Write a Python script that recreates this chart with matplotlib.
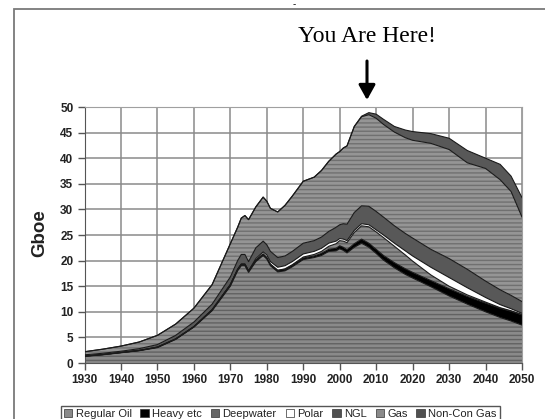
import matplotlib
matplotlib.use("Agg")
import matplotlib.pyplot as plt
from matplotlib.patches import Patch, Rectangle
import numpy as np

plt.rcParams["font.family"] = ["Liberation Sans", "DejaVu Sans"]
plt.rcParams["hatch.linewidth"] = 1.0

# values in Gboe per year
years = [1930, 1935, 1940, 1945, 1950, 1955, 1960, 1965, 1970, 1972, 1973, 1974,
         1975, 1977, 1979, 1980, 1981, 1983, 1985, 1987, 1990, 1993, 1995, 1997,
         1999, 2000, 2001, 2002, 2004, 2006, 2008, 2010, 2012, 2015, 2018, 2020,
         2025, 2030, 2035, 2040, 2044, 2047, 2050]
regular_oil = [1.3, 1.6, 2.0, 2.4, 3.0, 4.6, 7.0, 10.2, 15.0, 18.0, 19.0, 19.0,
               17.7, 19.8, 21.0, 20.3, 19.0, 17.8, 18.0, 18.8, 20.2, 20.6, 21.0, 21.8,
               21.9, 22.3, 22.0, 21.5, 22.6, 23.4, 22.6, 21.4, 20.1, 18.6, 17.3, 16.6,
               14.9, 13.1, 11.5, 10.0, 8.9, 8.2, 7.4]
heavy = [0.05, 0.05, 0.05, 0.05, 0.1, 0.1, 0.1, 0.2, 0.3, 0.3, 0.3, 0.3,
         0.3, 0.3, 0.3, 0.3, 0.3, 0.3, 0.3, 0.3, 0.3, 0.3, 0.4, 0.4,
         0.5, 0.6, 0.6, 0.6, 0.7, 0.8, 0.8, 0.8, 0.9, 1.0, 1.1, 1.1,
         1.2, 1.4, 1.5, 1.7, 1.8, 1.9, 2.0]
deepwater = [0, 0, 0, 0, 0, 0, 0, 0, 0, 0, 0, 0,
             0, 0, 0, 0, 0, 0, 0.1, 0.1, 0.2, 0.3, 0.4, 0.6,
             0.9, 1.0, 1.2, 1.4, 2.2, 2.6, 3.2, 3.4, 3.5, 3.2, 2.7, 2.2,
             1.1, 0.5, 0.3, 0.2, 0.1, 0.1, 0.1]
polar = [0, 0, 0, 0, 0, 0, 0, 0, 0, 0, 0, 0,
         0, 0.3, 0.4, 0.5, 0.5, 0.6, 0.6, 0.6, 0.6, 0.6, 0.6, 0.6,
         0.5, 0.4, 0.4, 0.4, 0.4, 0.4, 0.4, 0.4, 0.5, 0.6, 0.8, 1.0,
         1.5, 1.7, 1.4, 0.9, 0.6, 0.4, 0.2]
ngl = [0.25, 0.25, 0.25, 0.35, 0.5, 0.7, 0.9, 1.1, 1.5, 1.7, 1.9, 1.9,
       1.8, 2.1, 2.1, 2.0, 2.0, 1.9, 1.9, 2.0, 2.1, 2.1, 2.2, 2.3,
       2.7, 2.7, 3.0, 3.2, 3.5, 3.5, 3.6, 3.6, 3.5, 3.4, 3.4, 3.5,
       3.5, 3.7, 3.6, 3.2, 2.9, 2.6, 2.3]
gas = [0.6, 0.8, 1.0, 1.3, 1.8, 2.2, 2.7, 3.8, 6.5, 6.5, 7.1, 7.6,
       8.2, 8.0, 8.6, 8.5, 8.4, 8.9, 9.9, 10.8, 12.1, 12.4, 13.0, 13.7,
       14.3, 14.3, 14.8, 15.3, 16.8, 17.4, 17.9, 18.2, 18.1, 18.3, 18.7, 19.1,
       20.7, 21.3, 20.8, 22.0, 21.5, 20.3, 16.5]
noncon_gas = [0, 0, 0, 0, 0, 0, 0, 0, 0, 0, 0, 0,
              0, 0, 0, 0, 0, 0, 0, 0, 0, 0, 0, 0,
              0, 0, 0, 0, 0, 0.1, 0.4, 0.8, 1.0, 1.1, 1.5, 1.7,
              1.9, 2.2, 2.4, 2.0, 3.0, 3.0, 3.8]

labels = ["Regular Oil", "Heavy etc", "Deepwater", "Polar", "NGL", "Gas", "Non-Con Gas"]
series = [regular_oil, heavy, deepwater, polar, ngl, gas, noncon_gas]
faces = ["#8a8a8a", "#000000", "#8a8a8a", "#ffffff", "#585858", "#959595", "#585858"]
stripes = ["#626262", None, "#626262", None, None, "#707070", None]
legend_faces = ["#8a8a8a", "#000000", "#666666", "#ffffff", "#505050", "#8a8a8a", "#505050"]

fig = plt.figure(figsize=(5.45, 4.19), dpi=100)
ax = fig.add_axes([84.5 / 545, 1 - 363 / 419, (522 - 84.5) / 545, (363 - 107) / 419])

x = np.array(years)
base = np.zeros(len(years))
for vals, face, stripe in zip(series, faces, stripes):
    top = base + np.array(vals)
    if stripe:
        ax.fill_between(x, base, top, facecolor=face, edgecolor=stripe, hatch="----",
                        linewidth=0, zorder=2)
    else:
        ax.fill_between(x, base, top, facecolor=face, linewidth=0, zorder=2)
    ax.plot(x, top, color="#1a1a1a", lw=0.8, zorder=3)
    base = top

ax.set_xlim(1930, 2050)
ax.set_ylim(0, 50)
ax.set_xticks(range(1930, 2051, 10))
ax.set_yticks(range(0, 51, 5))
ax.grid(True, color="#8a8a8a", lw=1.1, zorder=0)
ax.set_axisbelow(True)
for side in ["top", "right"]:
    ax.spines[side].set_color("#a0a0a0")
for side in ["left", "bottom"]:
    ax.spines[side].set_color("#555555")
ax.tick_params(length=5, width=1, color="#555555", pad=3, labelsize=8.5, labelcolor="#222222")
for lab in ax.get_xticklabels() + ax.get_yticklabels():
    lab.set_fontweight("bold")

fig.text(40 / 545, 1 - 233 / 419, "Gboe", rotation=90, ha="center", va="center",
         fontsize=13.5, fontweight="bold", color="#222222")

fig.text(367 / 545, 1 - 37 / 419, "You Are Here!", ha="center", va="center",
         fontsize=17, family=["Liberation Serif", "DejaVu Serif"])
ax.annotate("", xy=(367 / 545, 1 - 100 / 419), xytext=(367 / 545, 1 - 61 / 419),
            xycoords="figure fraction", textcoords="figure fraction",
            arrowprops=dict(arrowstyle="-|>,head_length=0.45,head_width=0.25",
                            lw=2.2, color="k", mutation_scale=20, shrinkA=0, shrinkB=0))
fig.text(294 / 545, 1 - 4 / 419, "-", ha="center", va="center", fontsize=7)

fig.patches.append(Rectangle((14 / 545, -0.1), 1.0, 1.1 - 9.5 / 419, transform=fig.transFigure,
                             fill=False, edgecolor="#7a7a7a", lw=1.3))

handles = [Patch(facecolor=c, edgecolor="#333333", lw=0.5) for c in legend_faces]
fig.legend(handles, labels, loc="upper left", bbox_to_anchor=(55 / 545, 1 - 400 / 419),
           ncol=7, fontsize=8, handlelength=0.75, handleheight=0.75, handletextpad=0.3,
           columnspacing=0.8, borderpad=0.3, fancybox=False, frameon=True,
           edgecolor="#555555", framealpha=1, labelcolor="#222222")

fig.savefig("out.png", dpi=100)
